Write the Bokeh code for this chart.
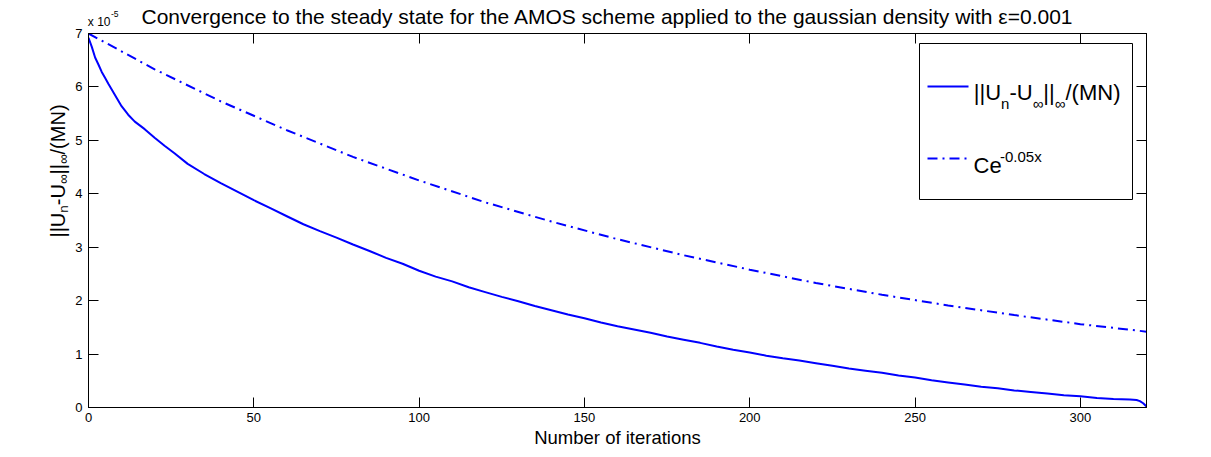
import math
from bokeh.plotting import figure
from bokeh.layouts import column, row
from bokeh.models import Range1d, LinearAxis, Label, FixedTicker
from bokeh.embed import file_html
from bokeh.resources import INLINE

# ---------------- data (values in units of 1e-5) ----------------
iterations = [0, 1, 2, 3, 4, 5, 6, 8, 10, 12, 14, 17, 20, 23, 26, 30, 35, 40, 45,
              50, 55, 60, 65, 70, 75, 80, 85, 90, 95, 100, 105, 110, 115, 120, 125,
              130, 135, 140, 145, 150, 155, 160, 165, 170, 175, 180, 185, 190, 195,
              200, 205, 210, 215, 220, 225, 230, 235, 240, 245, 250, 255, 260, 265,
              270, 275, 280, 285, 290, 295, 300, 305, 310, 315, 317, 318, 319, 320]
error_scaled = [6.92, 6.75, 6.55, 6.42, 6.28, 6.17, 6.06, 5.85, 5.64, 5.48, 5.35, 5.21,
                5.05, 4.90, 4.76, 4.56, 4.37, 4.20, 4.04, 3.88, 3.73, 3.58, 3.43, 3.30,
                3.18, 3.05, 2.93, 2.80, 2.69, 2.56, 2.45, 2.36, 2.25, 2.16, 2.07, 1.99,
                1.90, 1.82, 1.74, 1.67, 1.59, 1.52, 1.46, 1.40, 1.33, 1.27, 1.21, 1.14,
                1.08, 1.03, 0.97, 0.92, 0.88, 0.83, 0.78, 0.73, 0.69, 0.65, 0.60, 0.56,
                0.51, 0.47, 0.43, 0.39, 0.36, 0.32, 0.29, 0.26, 0.23, 0.21, 0.18, 0.16,
                0.15, 0.14, 0.12, 0.08, 0.02]
ref_iters = [0, 20, 40, 60, 80, 100, 120, 140, 160, 180, 200, 220, 240, 260, 280, 300, 320]
ref_scaled = [7.00, 6.33, 5.73, 5.19, 4.69, 4.25, 3.84, 3.48, 3.15, 2.85, 2.58, 2.33,
              2.11, 1.91, 1.73, 1.56, 1.42]
x_ticks = [0, 50, 100, 150, 200, 250, 300]
y_ticks = [0, 1, 2, 3, 4, 5, 6, 7]

title_text = "Convergence to the steady state  for the AMOS scheme applied to the gaussian density with \u03b5=0.001"
xlabel_text = "Number of iterations"
multiplier_text = "x 10"
multiplier_exp = "-5"
label_pieces = [("||U", "main"), ("n", "sub"), ("-U", "main"), ("\u221e", "sub"),
                ("||", "main"), ("\u221e", "sub"), ("/(MN)", "main")]
legend_exp_base = "Ce"
legend_exp = "-0.05x"

# ---------------- layout (page pixels) ----------------
W, H = 1205, 455
TOP_H = 28            # strip holding the title
LEFT_W = 72           # strip holding the rotated y label
FL, FT, FW, FH = 88, 33, 1058, 374
XMAX, YMAX = 320, 7
FONT = "Liberation Sans"
BLUE = "#0000ff"
F_BOTTOM = FT + FH
BASE_FIX = 0.25       # observed downward shift of "alphabetic" labels, in em

def dx(px):  # page pixel -> data x of the main plot
    return (px - FL) / FW * XMAX

def dy(py):  # page pixel -> data y of the main plot
    return (F_BOTTOM - py) / FH * YMAX

ADV = {'|': 0.26, 'U': 0.722, 'n': 0.556, '-': 0.333, '\u221e': 0.713, '/': 0.278,
       '(': 0.333, 'M': 0.833, 'N': 0.722, ')': 0.333}

def adv(s, size):
    return sum(ADV.get(c, 0.556) for c in s) * size

def blank_fig(w, h):
    f = figure(width=w, height=h, x_range=Range1d(0, w), y_range=Range1d(0, h),
               output_backend="svg", toolbar_location=None,
               x_axis_location=None, y_axis_location=None,
               min_border=0, min_border_left=0, min_border_right=0,
               min_border_top=0, min_border_bottom=0)
    f.outline_line_color = None
    f.background_fill_color = "white"
    f.border_fill_color = "white"
    for g in f.grid:
        g.visible = False
    return f

def put_label(f, left_px, bottom_px, px, py, text, size, align="left", angle=0.0):
    # (px, py): page pixel of the text's baseline anchor; frame spans the strip
    if angle == 0.0:
        py -= BASE_FIX * size
    else:
        px -= BASE_FIX * size
    f.add_layout(Label(x=px - left_px, y=bottom_px - py, x_units="screen",
                       y_units="screen", text=text, text_align=align,
                       text_baseline="alphabetic", text_font=FONT,
                       text_font_size=f"{size}px", text_color="black", angle=angle))

# ---- title strip ----
top_fig = blank_fig(W, TOP_H)
put_label(top_fig, 0, TOP_H, 610, 21.3, title_text, 21, "center")
put_label(top_fig, 0, TOP_H, 87.3, 24.0, multiplier_text, 12)
put_label(top_fig, 0, TOP_H, 110.5, 16.0, multiplier_exp, 8.5)

# ---- y-label strip ----
left_fig = blank_fig(LEFT_W, H - TOP_H)
ymain, ysub = 20, 13.5
total = sum(adv(s, ymain if k == "main" else ysub) for s, k in label_pieces)
pos = 218.5 + total / 2
for s, kind in label_pieces:
    size = ymain if kind == "main" else ysub
    bx = 62.7 if kind == "main" else 66.8
    put_label(left_fig, 0, H, bx, pos, s, size, "left", math.pi / 2)
    pos -= adv(s, size)

# ---- main plot ----
MW = W - LEFT_W
MH = H - TOP_H
p = figure(width=MW, height=MH, x_range=Range1d(0, XMAX), y_range=Range1d(0, YMAX),
           output_backend="svg", toolbar_location=None,
           min_border_left=FL - LEFT_W, min_border_top=FT - TOP_H,
           min_border_right=MW - (FL - LEFT_W) - FW,
           min_border_bottom=MH - (FT - TOP_H) - FH)
p.background_fill_color = "white"
p.border_fill_color = "white"
p.outline_line_color = "black"
p.xgrid.grid_line_color = None
p.ygrid.grid_line_color = None

for ax in p.xaxis:
    ax.ticker = FixedTicker(ticks=x_ticks)
for ax in p.yaxis:
    ax.ticker = FixedTicker(ticks=y_ticks)

def style_axis(ax, labels=True, standoff=5):
    ax.axis_line_color = "black"
    ax.major_tick_line_color = "black"
    ax.major_tick_in = 10
    ax.major_tick_out = 0
    ax.minor_tick_line_color = None
    ax.major_label_text_font = FONT
    ax.major_label_text_color = "black"
    ax.major_label_standoff = standoff
    if labels:
        ax.major_label_text_font_size = "13px"
    else:
        ax.major_label_text_font_size = "0px"
        ax.major_label_text_alpha = 0

for ax in p.xaxis:
    style_axis(ax, True, 5)
    ax.axis_label = xlabel_text
    ax.axis_label_text_font = FONT
    ax.axis_label_text_font_size = "18.5px"
    ax.axis_label_text_font_style = "normal"
    ax.axis_label_text_color = "black"
    ax.axis_label_standoff = 2
for ax in p.yaxis:
    style_axis(ax, True, 6)

top = LinearAxis(ticker=FixedTicker(ticks=x_ticks))
style_axis(top, False, 0)
p.add_layout(top, "above")
right = LinearAxis(ticker=FixedTicker(ticks=y_ticks))
style_axis(right, False, 0)
p.add_layout(right, "right")

# ---------------- curves ----------------
p.line(ref_iters, ref_scaled, line_color=BLUE, line_width=2, line_dash="10 5 2 5")
p.line(iterations, error_scaled, line_color=BLUE, line_width=2)

# ---------------- legend (inside the frame) ----------------
p.quad(left=[dx(919)], right=[dx(1132)], bottom=[dy(199)], top=[dy(43)],
       fill_color="white", line_color="black", line_width=1)
p.line([dx(927), dx(968)], [dy(86), dy(86)], line_color=BLUE, line_width=2)
p.line([dx(927), dx(969)], [dy(158), dy(158)], line_color=BLUE, line_width=2,
       line_dash="10 5 2 5")

lmain, lsub = 22, 15
pos = 973.3
for s, kind in label_pieces:
    size = lmain if kind == "main" else lsub
    by = 97.3 if kind == "main" else 106.5
    put_label(p, FL, F_BOTTOM, pos, by, s, size)
    pos += adv(s, size)

put_label(p, FL, F_BOTTOM, 973, 170, legend_exp_base, 22)
put_label(p, FL, F_BOTTOM, 999.5, 159.5, legend_exp, 15)

layout = column(top_fig, row(left_fig, p, spacing=0), spacing=0)
open("out.html", "w").write(file_html(layout, INLINE))
